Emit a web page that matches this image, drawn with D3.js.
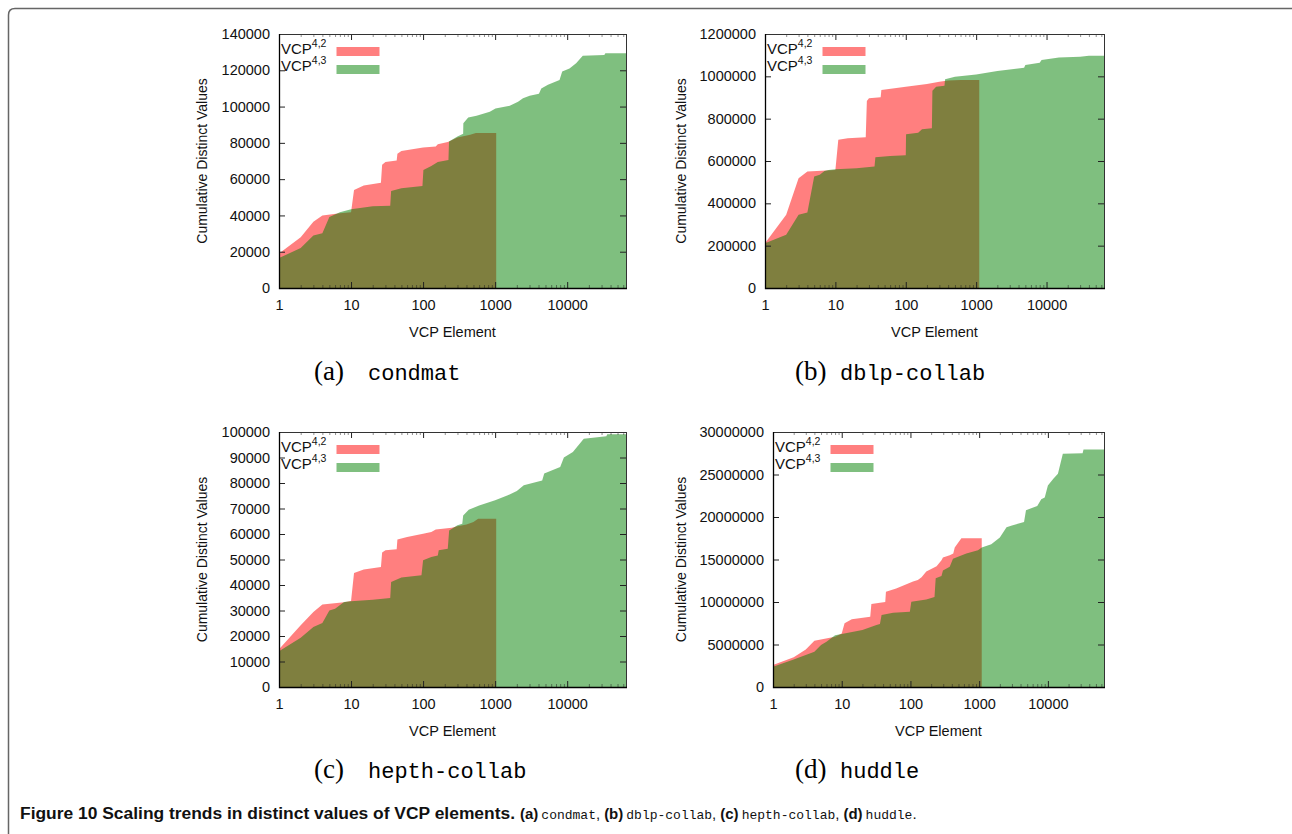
<!DOCTYPE html>
<head>
	<meta charset="utf-8">
	<script src="https://d3js.org/d3.v7.min.js"></script>
	<style>
		body { margin: 0; background: #fff; }
	</style>
</head>
<body>
	<script type="text/javascript">
		// --- values ---
		var xTicks = [1, 10, 100, 1000, 10000];

		// (a) condmat
		var condmatX42 = [1, 2, 3, 4, 7, 10, 11, 15, 26, 27, 30, 43, 44, 50, 100, 150, 160, 220, 229, 300, 450, 540, 1035];
		var condmatY42 = [19000, 28000, 36500, 40000, 41200, 41800, 54000, 56500, 58000, 68000, 69500, 70300, 74000, 75500, 77400, 78000, 79300, 80500, 80800, 83000, 84400, 85500, 85500];
		var condmatX43 = [1, 2, 3, 4, 5, 7, 10, 20, 35, 36, 50, 98, 101, 130, 160, 225, 229, 300, 360, 362, 423, 552, 844, 1011, 1596, 2080, 2437, 3015, 4058, 4370, 5410, 7835, 8530, 10770, 13300, 16470, 32800, 33900, 65536];
		var condmatY43 = [16500, 22000, 29000, 30200, 39200, 41800, 43400, 45000, 45400, 53500, 55000, 56200, 65000, 67300, 69400, 70600, 80800, 83500, 85000, 90800, 94000, 95000, 97200, 99000, 100400, 102700, 104600, 105900, 107000, 110000, 112000, 114700, 119300, 121000, 123900, 128000, 128400, 129400, 129400];
		var condmatTicks = [0, 20000, 40000, 60000, 80000, 100000, 120000, 140000];

		// (b) dblp-collab
		var dblpX42 = [1, 2, 3, 4, 10, 11, 15, 27, 28, 30, 44, 45, 100, 200, 300, 400, 600, 1107];
		var dblpY42 = [212000, 346000, 519000, 550000, 558000, 700000, 707000, 712000, 884000, 896000, 901000, 935000, 951000, 964000, 975000, 980000, 983000, 983000];
		var dblpX43 = [1, 2, 3, 4, 5, 6, 7, 8, 10, 20, 36, 37, 60, 100, 101, 150, 170, 235, 239, 270, 355, 362, 500, 1000, 2000, 4800, 5000, 8000, 8500, 15000, 30000, 40000, 65536];
		var dblpY43 = [212000, 252000, 346000, 357000, 527000, 535000, 553000, 558000, 561000, 566000, 574000, 618000, 624000, 627000, 726000, 734000, 750000, 755000, 932000, 951000, 956000, 986000, 998000, 1009000, 1025000, 1041000, 1053000, 1064000, 1077000, 1089000, 1093000, 1097000, 1097000];
		var dblpTicks = [0, 200000, 400000, 600000, 800000, 1000000, 1200000];

		// (c) hepth-collab
		var hepthX42 = [1, 2, 3, 4, 8, 10, 11, 15, 26, 27, 30, 43, 44, 60, 100, 130, 150, 250, 300, 400, 500, 580, 1035];
		var hepthY42 = [14800, 24200, 29400, 32400, 33200, 33700, 44700, 46100, 47100, 52700, 53600, 54000, 57800, 58800, 60100, 60800, 61800, 62500, 63000, 63700, 64700, 66000, 66000];
		var hepthX43 = [1, 2, 3, 4, 5, 6, 8, 10, 20, 35, 36, 50, 95, 100, 130, 160, 165, 220, 230, 300, 350, 360, 430, 600, 1000, 1500, 2000, 2500, 4500, 4800, 8000, 9000, 12000, 17000, 35000, 36000, 65536];
		var hepthY43 = [14000, 19300, 23500, 25100, 30000, 30700, 33300, 33600, 34200, 34900, 41200, 42900, 43800, 49700, 51000, 51600, 53600, 54200, 61400, 63400, 64000, 67300, 69500, 71200, 73200, 75200, 76900, 79100, 81000, 83700, 86300, 90000, 92200, 97400, 98300, 99100, 99100];
		var hepthTicks = [0, 10000, 20000, 30000, 40000, 50000, 60000, 70000, 80000, 90000, 100000];

		// (d) huddle
		var huddleX42 = [1, 2, 3, 4, 8, 10, 11, 14, 26, 27, 36, 43, 44, 62, 109, 128, 145, 170, 240, 283, 297, 373, 420, 441, 551, 1090];
		var huddleY42 = [2590000, 3500000, 4400000, 5450000, 5900000, 6300000, 7500000, 7960000, 8270000, 9760000, 9900000, 10000000, 11200000, 11600000, 12400000, 12600000, 12900000, 13600000, 14200000, 14900000, 15250000, 15500000, 15700000, 16400000, 17500000, 17500000];
		var huddleX43 = [1, 2, 4, 5, 6, 8, 10, 20, 32, 36, 38, 56, 98, 103, 170, 224, 233, 283, 297, 373, 416, 650, 960, 1090, 1500, 2000, 2500, 3000, 4500, 4800, 7000, 8000, 9000, 10000, 12000, 14000, 16500, 32000, 33000, 65536];
		var huddleY43 = [2390000, 3250000, 4160000, 4940000, 5330000, 6100000, 6240000, 6700000, 7300000, 7400000, 8470000, 8750000, 8860000, 10040000, 10300000, 10600000, 12800000, 13060000, 13700000, 14160000, 15100000, 15700000, 16100000, 16400000, 16800000, 17600000, 18800000, 19000000, 19400000, 20800000, 21300000, 22100000, 22300000, 23700000, 24500000, 25100000, 27450000, 27500000, 27950000, 27950000];
		var huddleTicks = [0, 5000000, 10000000, 15000000, 20000000, 25000000, 30000000];

		var panels = [
			{x42: condmatX42, y42: condmatY42, x43: condmatX43, y43: condmatY43, yTicks: condmatTicks, tag: "(a)", name: "condmat"},
			{x42: dblpX42, y42: dblpY42, x43: dblpX43, y43: dblpY43, yTicks: dblpTicks, tag: "(b)", name: "dblp-collab"},
			{x42: hepthX42, y42: hepthY42, x43: hepthX43, y43: hepthY43, yTicks: hepthTicks, tag: "(c)", name: "hepth-collab"},
			{x42: huddleX42, y42: huddleY42, x43: huddleX43, y43: huddleY43, yTicks: huddleTicks, tag: "(d)", name: "huddle"}
		];

		// layout of each panel: plot box, y title x, subcaption position
		var layout = [
			{l: 279, r: 626, t: 34, b: 288, ylab: 207, capX: 314, nameX: 368, capY: 380},
			{l: 765, r: 1104, t: 34, b: 288, ylab: 686, capX: 795, nameX: 840, capY: 380},
			{l: 279, r: 626, t: 432, b: 687, ylab: 207, capX: 314, nameX: 368, capY: 778},
			{l: 773, r: 1104, t: 432, b: 687, ylab: 686, capX: 795, nameX: 840, capY: 778}
		];

		var sans = "'Liberation Sans', Arial, sans-serif";
		var serif = "'Liberation Serif', 'DejaVu Serif', serif";
		var mono = "'Liberation Mono', 'DejaVu Sans Mono', monospace";

		var w = 1292, h = 834;
		var svg = d3.select("body").append("svg").attr("width", w).attr("height", h)
			.style("font-family", sans);

		// figure frame
		svg.append("path")
			.attr("d", "M8.5,834 V15 Q8.5,8.5 15,8.5 H1292")
			.attr("fill", "none").attr("stroke", "#666").attr("stroke-width", 1.5);

		var minor = [];
		[1, 10, 100, 1000, 10000].forEach(function(d){
			for (var k = 2; k < 10; k++) { if (d * k < 65536) minor.push(d * k); }
		});

		panels.forEach(function(p, i){
			var L = layout[i];
			var g = svg.append("g");
			var x = d3.scaleLog().domain([1, 65536]).range([L.l, L.r]);
			var y = d3.scaleLinear().domain([0, p.yTicks[p.yTicks.length - 1]]).range([L.b, L.t]);

			var area = d3.area()
				.x(function(d){ return x(d[0]); })
				.y0(y(0))
				.y1(function(d){ return y(d[1]); });

			g.append("path").datum(d3.zip(p.x42, p.y42))
				.attr("d", area).attr("fill", "#ff0000").attr("fill-opacity", 0.5);
			g.append("path").datum(d3.zip(p.x43, p.y43))
				.attr("d", area).attr("fill", "#008000").attr("fill-opacity", 0.5);

			// axes, ticks inside like gnuplot
			g.append("g").attr("transform", "translate(" + L.l + ",0)")
				.call(d3.axisLeft(y).tickValues(p.yTicks).tickSize(-6).tickPadding(9).tickFormat(d3.format("d")));
			g.append("g").attr("transform", "translate(" + L.r + ",0)")
				.call(d3.axisRight(y).tickValues(p.yTicks).tickSize(-6).tickFormat(""));
			g.append("g").attr("transform", "translate(0," + L.b + ")")
				.call(d3.axisBottom(x).tickValues(xTicks).tickSize(-6).tickPadding(12).tickFormat(d3.format("d")));
			g.append("g").attr("transform", "translate(0," + L.t + ")")
				.call(d3.axisTop(x).tickValues(xTicks).tickSize(-6).tickFormat(""));
			g.append("g").attr("transform", "translate(0," + L.b + ")")
				.call(d3.axisBottom(x).tickValues(minor).tickSize(-3).tickFormat(""))
				.selectAll("line").attr("stroke-opacity", 0.5);
			g.append("g").attr("transform", "translate(0," + L.t + ")")
				.call(d3.axisTop(x).tickValues(minor).tickSize(-3).tickFormat(""))
				.selectAll("line").attr("stroke-opacity", 0.5);

			g.selectAll(".domain").remove();
			g.selectAll(".tick line").attr("stroke", "#222");
			g.selectAll(".tick text").attr("fill", "#111")
				.style("font-size", "14.5px").style("font-family", sans);

			g.append("rect")
				.attr("x", L.l + 0.5).attr("y", L.t + 0.5)
				.attr("width", L.r - L.l).attr("height", L.b - L.t)
				.attr("fill", "none").attr("stroke", "#333").attr("stroke-width", 1);
			g.append("path")
				.attr("d", "M" + (L.l + 0.5) + "," + L.t + " V" + (L.b + 0.5) + " H" + (L.r + 1))
				.attr("fill", "none").attr("stroke", "#000").attr("stroke-width", 1.3);

			// legend
			var keys = [["4,2", "#ff0000", 20, 13], ["4,3", "#008000", 37, 31]];
			keys.forEach(function(k){
				var t = g.append("text").attr("x", L.l + 2).attr("y", L.t + k[2])
					.style("font-size", "15px").attr("fill", "#111");
				t.append("tspan").text("VCP");
				t.append("tspan").attr("dy", -7).style("font-size", "10.5px").text(k[0]);
				g.append("rect").attr("x", L.l + 57.5).attr("y", L.t + k[3])
					.attr("width", 43).attr("height", 9)
					.attr("fill", k[1]).attr("fill-opacity", 0.5);
			});

			// axis titles
			g.append("text")
				.attr("transform", "translate(" + L.ylab + "," + ((L.t + L.b) / 2) + ") rotate(-90)")
				.attr("text-anchor", "middle").style("font-size", "14px").attr("fill", "#111")
				.text("Cumulative Distinct Values");
			g.append("text")
				.attr("x", (L.l + L.r) / 2).attr("y", L.b + 49)
				.attr("text-anchor", "middle").style("font-size", "14.5px").attr("fill", "#111")
				.text("VCP Element");

			// subcaption
			g.append("text").attr("x", L.capX).attr("y", L.capY)
				.style("font-family", serif).style("font-size", "27px")
				.attr("fill", "#000").text(p.tag);
			g.append("text").attr("x", L.nameX).attr("y", L.capY)
				.style("font-family", mono).style("font-size", "22px")
				.attr("fill", "#000").text(p.name);
		});

		// figure caption, laid out piece by piece
		svg.append("text").attr("x", 20).attr("y", 819)
			.attr("fill", "#111").style("font-size", "16px").style("font-weight", "bold")
			.attr("textLength", 495).attr("lengthAdjust", "spacingAndGlyphs")
			.text("Figure 10 Scaling trends in distinct values of VCP elements.");
		var cx = 520;
		function piece(str, font, size, weight, gap) {
			var t = svg.append("text").attr("x", cx).attr("y", 819).attr("fill", "#111")
				.style("font-family", font).style("font-size", size).style("font-weight", weight)
				.text(str);
			cx += t.node().getComputedTextLength() + gap;
		}
		panels.forEach(function(p, i){
			piece(p.tag, sans, "15px", "bold", 3);
			piece(p.name, mono, "13px", "normal", 0);
			piece(i < panels.length - 1 ? "," : ".", sans, "15px", "normal", 4);
		});
	</script>
</body>
